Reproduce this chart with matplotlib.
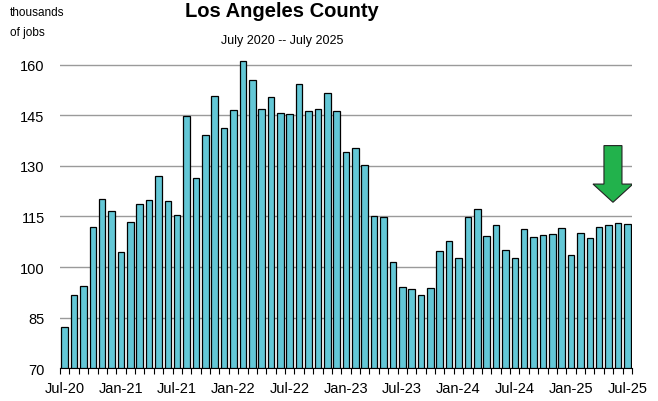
import numpy as np
import matplotlib.pyplot as plt
from matplotlib.patches import FancyArrow
from matplotlib.ticker import FixedLocator

# monthly jobs, thousands, Jul 2020 .. Jul 2025
jobs = [82.3, 91.6, 94.5, 111.8, 120.3, 116.5, 104.5, 113.5, 118.6, 120.0,
        127.1, 119.7, 115.4, 144.7, 126.5, 139.2, 150.8, 141.2, 146.6, 161.1,
        155.4, 146.9, 150.5, 145.8, 145.5, 154.4, 146.4, 146.9, 151.5, 146.4,
        134.1, 135.3, 130.2, 115.2, 114.9, 101.6, 94.2, 93.4, 91.6, 93.7,
        104.7, 107.8, 102.7, 114.9, 117.1, 109.2, 112.4, 105.0, 102.7, 111.2,
        108.9, 109.4, 109.8, 111.5, 103.5, 110.1, 108.7, 111.8, 112.4, 113.0,
        112.7]
tick_labels = ["Jul-20", "Jan-21", "Jul-21", "Jan-22", "Jul-22", "Jan-23",
               "Jul-23", "Jan-24", "Jul-24", "Jan-25", "Jul-25"]
yticks = [70, 85, 100, 115, 130, 145, 160]

plt.rcParams['font.family'] = ['Liberation Sans', 'DejaVu Sans']

fig = plt.figure(figsize=(6.58, 4.02), dpi=100)
ax = fig.add_axes([60 / 658, 1 - 369.3 / 402, 572 / 658, (369.3 - 15) / 402])

x = np.arange(len(jobs))
ax.bar(x, np.array(jobs) - 70, bottom=70, width=0.7, color="#63c7d6",
       edgecolor="black", linewidth=0.9, zorder=3)

ax.set_xlim(-0.5, len(jobs) - 0.5)
ax.set_ylim(70, 175)
ax.set_yticks(yticks)
ax.yaxis.grid(True, color="#9a9a9a", linewidth=1.0, zorder=0)
ax.tick_params(axis="y", length=0, pad=11, labelsize=10.5)

ax.set_xticks(x[::6])
ax.set_xticklabels(tick_labels)
ax.xaxis.set_minor_locator(FixedLocator(np.arange(-0.5, len(jobs), 1)))
ax.tick_params(axis="x", which="major", length=0, pad=9, labelsize=10.5)
ax.tick_params(axis="x", which="minor", length=4, width=0.8, color="black")

for s in ["top", "right", "left"]:
    ax.spines[s].set_visible(False)
ax.spines["bottom"].set_color("black")
ax.spines["bottom"].set_linewidth(0.8)

arr = FancyArrow(58.47, 136.0, 0, -16.8, width=1.92, head_width=4.26,
                 head_length=5.4, length_includes_head=True,
                 facecolor="#22b24c", edgecolor="#222222", linewidth=0.8,
                 zorder=4)
ax.add_patch(arr)

fig.text(282 / 658, 1 - 17 / 402, "Los Angeles County", ha="center",
         va="baseline", fontsize=14.5, fontweight="bold")
fig.text(282 / 658, 1 - 41 / 402, "July 2020 -- July 2025", ha="center",
         va="center", fontsize=9)
fig.text(10 / 658, 1 - 7 / 402, "thousands\nof jobs", ha="left", va="top",
         fontsize=8.5, linespacing=1.85)

fig.savefig("out.png", dpi=100)
